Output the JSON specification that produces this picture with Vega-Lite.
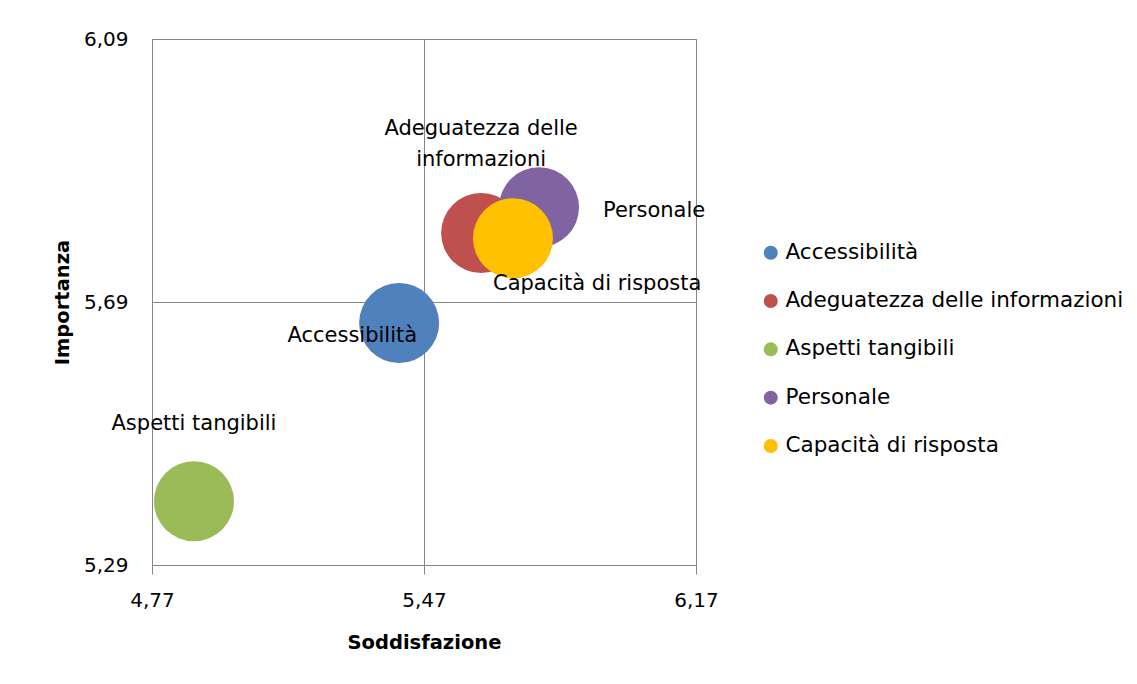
{
  "$schema": "https://vega.github.io/schema/vega-lite/v6.json",
  "width": 544,
  "height": 526,
  "autosize": {"type": "none"},
  "padding": {"left": 152, "top": 39, "right": 441, "bottom": 119},
  "background": "white",
  "config": {
    "font": "DejaVu Sans",
    "view": {"stroke": "#868686", "strokeWidth": 1},
    "axis": {
      "gridColor": "#868686",
      "gridOpacity": 1,
      "domainColor": "#868686",
      "tickColor": "#868686",
      "labelColor": "#000000",
      "titleColor": "#000000",
      "labelFont": "DejaVu Sans",
      "titleFont": "DejaVu Sans",
      "labelFontSize": 20,
      "titleFontSize": 19.5,
      "titleFontWeight": "bold"
    },
    "legend": {
      "labelFont": "DejaVu Sans",
      "labelFontSize": 21.5,
      "labelColor": "#000000",
      "labelLimit": 0
    }
  },
  "data": {
    "values": [
      {"fattore": "Accessibilità", "soddisfazione": 5.406, "importanza": 5.658},
      {"fattore": "Adeguatezza delle informazioni", "soddisfazione": 5.617, "importanza": 5.795},
      {"fattore": "Aspetti tangibili", "soddisfazione": 4.878, "importanza": 5.387},
      {"fattore": "Personale", "soddisfazione": 5.766, "importanza": 5.834},
      {"fattore": "Capacità di risposta", "soddisfazione": 5.699, "importanza": 5.787}
    ]
  },
  "encoding": {
    "x": {
      "field": "soddisfazione",
      "type": "quantitative",
      "scale": {"domain": [4.77, 6.17], "nice": false, "zero": false},
      "axis": {
        "title": "Soddisfazione",
        "values": [4.77, 5.47, 6.17],
        "labelExpr": "replace(format(datum.value, '.2f'), '.', ',')",
        "grid": true,
        "tickSize": 9,
        "labelPadding": 16,
        "titlePadding": 23,
        "labelFlush": false
      }
    },
    "y": {
      "field": "importanza",
      "type": "quantitative",
      "scale": {"domain": [5.29, 6.09], "nice": false, "zero": false},
      "axis": {
        "title": "Importanza",
        "values": [5.29, 5.69, 6.09],
        "labelExpr": "replace(format(datum.value, '.2f'), '.', ',')",
        "grid": true,
        "ticks": false,
        "tickSize": 0,
        "labelPadding": 24,
        "titlePadding": 11,
        "labelFlush": false
      }
    }
  },
  "layer": [
    {
      "mark": {"type": "point", "filled": true, "opacity": 1, "size": 6400, "shape": "circle", "strokeWidth": 0},
      "encoding": {
        "color": {
          "field": "fattore",
          "type": "nominal",
          "scale": {
            "domain": ["Accessibilità", "Adeguatezza delle informazioni", "Aspetti tangibili", "Personale", "Capacità di risposta"],
            "range": ["#4F81BD", "#C0504D", "#9BBB59", "#8064A2", "#FFC000"]
          },
          "legend": {
            "title": null,
            "orient": "none",
            "legendX": 608,
            "legendY": 203,
            "symbolType": "circle",
            "symbolSize": 196,
            "symbolStrokeWidth": 0,
            "symbolOpacity": 1,
            "labelOffset": 4,
            "rowPadding": 25.3,
            "padding": 0
          }
        }
      }
    },
    {
      "transform": [{"filter": "datum.fattore == 'Accessibilità'"}],
      "mark": {"type": "text", "align": "right", "baseline": "middle", "dx": 18, "dy": 13, "fontSize": 21, "color": "#000000"},
      "encoding": {"text": {"field": "fattore"}}
    },
    {
      "transform": [
        {"filter": "datum.fattore == 'Adeguatezza delle informazioni'"},
        {"calculate": "replace(datum.fattore, 'delle ', 'delle\\n')", "as": "etichetta"}
      ],
      "mark": {"type": "text", "align": "center", "baseline": "middle", "dx": 0, "dy": -104, "fontSize": 21, "lineHeight": 31, "lineBreak": "\n", "color": "#000000"},
      "encoding": {"text": {"field": "etichetta"}}
    },
    {
      "transform": [{"filter": "datum.fattore == 'Aspetti tangibili'"}],
      "mark": {"type": "text", "align": "center", "baseline": "middle", "dx": 0, "dy": -77, "fontSize": 21, "color": "#000000"},
      "encoding": {"text": {"field": "fattore"}}
    },
    {
      "transform": [{"filter": "datum.fattore == 'Personale'"}],
      "mark": {"type": "text", "align": "left", "baseline": "middle", "dx": 64, "dy": 4, "fontSize": 21, "color": "#000000"},
      "encoding": {"text": {"field": "fattore"}}
    },
    {
      "transform": [{"filter": "datum.fattore == 'Capacità di risposta'"}],
      "mark": {"type": "text", "align": "left", "baseline": "middle", "dx": -20, "dy": 46, "fontSize": 21, "color": "#000000"},
      "encoding": {"text": {"field": "fattore"}}
    }
  ]
}
